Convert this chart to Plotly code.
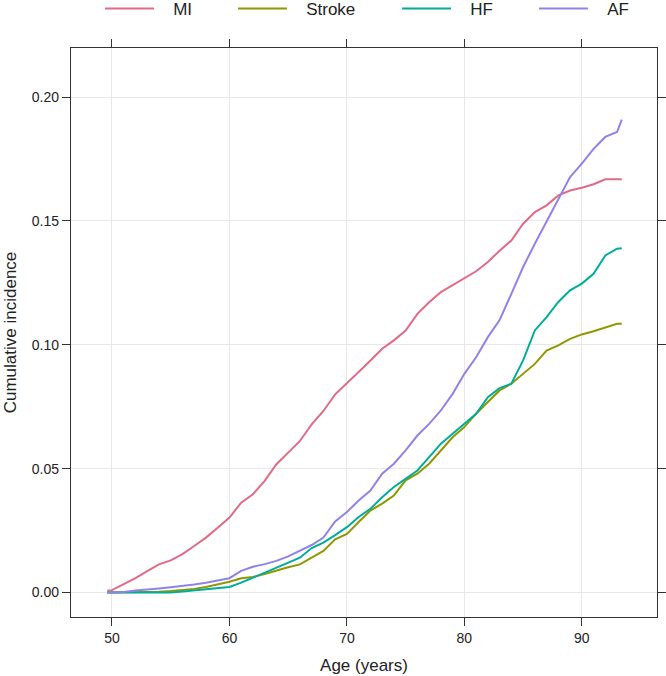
import plotly.graph_objects as go

age = [49.6, 50, 51, 52, 53, 54, 55, 56, 57, 58, 59, 60, 61, 62, 63, 64, 65, 66, 67, 68, 69,
       70, 71, 72, 73, 74, 75, 76, 77, 78, 79, 80, 81, 82, 83, 84, 85, 86, 87, 88, 89,
       90, 91, 92, 93, 93.4]

mi = [0.0007, 0.0010, 0.0034, 0.0058, 0.0087, 0.0114, 0.0130, 0.0155, 0.0188, 0.0222, 0.0262,
      0.0303, 0.0363, 0.0397, 0.0451, 0.0518, 0.0565, 0.0612, 0.0679, 0.0733, 0.0800,
      0.0843, 0.0890, 0.0937, 0.0984, 0.1018, 0.1058, 0.1125, 0.1172, 0.1213, 0.1240,
      0.1267, 0.1297, 0.1334, 0.1380, 0.1421, 0.1489, 0.1536, 0.1563, 0.1603, 0.1623,
      0.1634, 0.1648, 0.1668, 0.1668, 0.1668]

stroke = [0.0, 0.0, 0.0, 0.0, 0.0, 0.0003, 0.0006, 0.0009, 0.0015, 0.0023, 0.0032,
          0.0044, 0.0058, 0.0063, 0.0075, 0.0090, 0.0102, 0.0114, 0.0140, 0.0168, 0.0215,
          0.0237, 0.0285, 0.0331, 0.0359, 0.0392, 0.0453, 0.0480, 0.0520, 0.0574, 0.0627,
          0.0668, 0.0722, 0.0769, 0.0816, 0.0843, 0.0883, 0.0923, 0.0977, 0.0998, 0.1024,
          0.1042, 0.1055, 0.1069, 0.1085, 0.1085]

hf = [0.0, 0.0, 0.0, 0.0, 0.0, 0.0, 0.0, 0.0004, 0.0008, 0.0013, 0.0018,
      0.0023, 0.0040, 0.0060, 0.0078, 0.0098, 0.0120, 0.0141, 0.0180, 0.0202, 0.0232,
      0.0264, 0.0305, 0.0338, 0.0385, 0.0426, 0.0459, 0.0493, 0.0547, 0.0601, 0.0641,
      0.0681, 0.0722, 0.0789, 0.0825, 0.0843, 0.0937, 0.1058, 0.1112, 0.1173, 0.1220,
      0.1247, 0.1287, 0.1361, 0.1388, 0.1390]

af = [0.0, 0.0, 0.0002, 0.0008, 0.0014, 0.0017, 0.0022, 0.0027, 0.0033, 0.0040, 0.0048,
      0.0058, 0.0088, 0.0104, 0.0115, 0.0128, 0.0146, 0.0168, 0.0192, 0.0222, 0.0287,
      0.0325, 0.0372, 0.0412, 0.0480, 0.0520, 0.0574, 0.0634, 0.0681, 0.0735, 0.0802,
      0.0883, 0.0950, 0.1031, 0.1100, 0.1206, 0.1314, 0.1408, 0.1496, 0.1583, 0.1677,
      0.1731, 0.1791, 0.1839, 0.1859, 0.1909]

series_names = ["MI", "Stroke", "HF", "AF"]
series_values = [mi, stroke, hf, af]
colors = ["#E16A86", "#909800", "#00AD9A", "#9183E6"]
legend_ids = ["legend", "legend2", "legend3", "legend4"]

x_ticks = [50, 60, 70, 80, 90]
y_ticks = [0.00, 0.05, 0.10, 0.15, 0.20]
y_tick_labels = ["0.00", "0.05", "0.10", "0.15", "0.20"]

FONT = "Liberation Sans, Arial, Helvetica, sans-serif"
AXC = "#333333"
TXT = "#222222"
PAD = "\u00a0\u00a0\u00a0"

fig = go.Figure()
for name, vals, col, lg in zip(series_names, series_values, colors, legend_ids):
    fig.add_trace(go.Scatter(x=age, y=vals, mode="lines", name=PAD + name,
                             line=dict(color=col, width=2), legend=lg))

W, H = 666, 676
legend_x_px = [100, 233, 397, 534]
legend_common = dict(orientation="h", xref="container", yref="container",
                     yanchor="middle", xanchor="left", y=1 - 9 / H,
                     bgcolor="rgba(0,0,0,0)", borderwidth=0,
                     font=dict(family=FONT, size=17, color=TXT),
                     itemwidth=49)
legends = {}
for lg, px in zip(legend_ids, legend_x_px):
    legends[lg] = dict(legend_common, x=px / W)

fig.update_layout(
    width=W, height=H,
    margin=dict(l=71, r=9, t=48, b=59),
    paper_bgcolor="white", plot_bgcolor="white",
    font=dict(family=FONT, size=14, color=TXT),
    showlegend=True,
    **legends,
)

fig.update_xaxes(
    range=[46.51, 96.40], tickvals=x_ticks, ticktext=[str(t) for t in x_ticks],
    showgrid=True, gridcolor="#E8E8E8", gridwidth=1, zeroline=False,
    showline=True, linecolor=AXC, linewidth=1.3, mirror="ticks",
    ticks="outside", ticklen=8, tickwidth=1.2, tickcolor=AXC,
    tickfont=dict(size=14, color=TXT), automargin=False,
    title=dict(text="Age (years)", font=dict(size=17, color=TXT), standoff=14),
)
fig.update_yaxes(
    range=[-0.00985, 0.2198], tickvals=y_ticks, ticktext=y_tick_labels,
    showgrid=True, gridcolor="#E8E8E8", gridwidth=1, zeroline=False,
    showline=True, linecolor=AXC, linewidth=1.3, mirror="ticks",
    ticks="outside", ticklen=8, tickwidth=1.2, tickcolor=AXC,
    tickfont=dict(size=14, color=TXT), automargin=False,
    title=dict(text="Cumulative incidence", font=dict(size=17, color=TXT), standoff=10),
)

fig.write_html("out.html", config={"displayModeBar": False},
               post_script="document.body.style.margin='0';")
